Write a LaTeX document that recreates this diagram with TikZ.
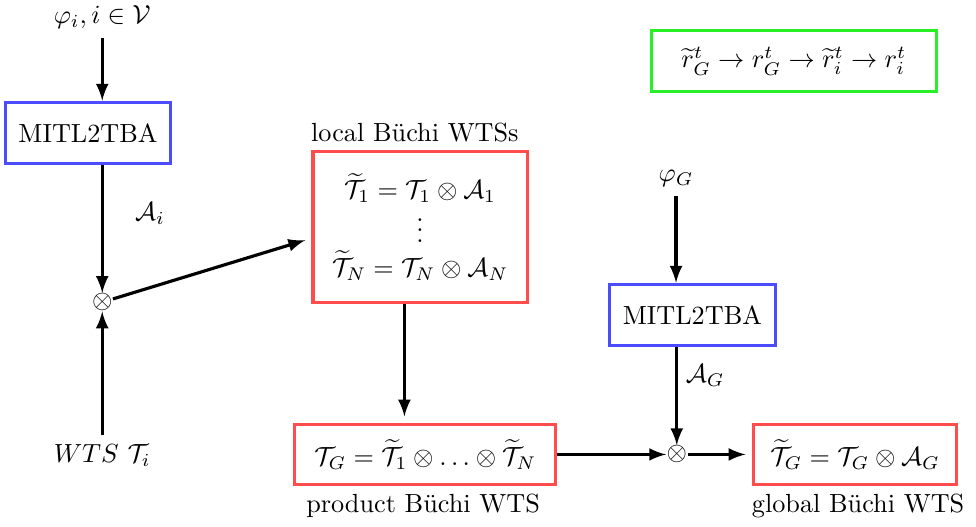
\documentclass[tikz,border=0pt]{standalone}
\usepackage{amsmath,amssymb}
\definecolor{boxgreen}{RGB}{40,240,40}
\begin{document}
\begin{tikzpicture}[
  bluebox/.style={draw=blue!70, very thick, minimum height=.82cm, inner xsep=5pt},
  redbox/.style={draw=red!70, very thick, minimum height=.8cm},
  greenbox/.style={draw=boxgreen, very thick, minimum height=.82cm},
  prod/.style={inner sep=0pt},
  arr/.style={-latex, very thick},
  tored/.style={shorten >=2.5pt}]
  \useasboundingbox (0,0) rectangle (13.08,-7.06);
  % left column
  \node (phii) at (1.37,-.23) {$\varphi_i, i\in\mathcal{V}$};
  \node[bluebox, minimum width=2.18cm] (mitli) at (1.18,-1.78) {MITL2TBA};
  \node[prod] (xi) at (1.37,-4.05) {$\otimes$};
  \node (ai) at (2.01,-2.86) {$\mathcal{A}_i$};
  \node (wts) at (1.37,-6.1) {$WTS\ \mathcal{T}_i$};
  \draw[arr](phii)--(phii |- mitli.north);
  \draw[arr](mitli.south -| xi)--(xi);
  \draw[arr](wts)--(xi);
  % local and product
  \node[redbox, minimum width=2.87cm, minimum height=2.02cm, align=center] (loc) at (5.63,-3.04)
	{$\widetilde{\mathcal{T}}_1 = \mathcal{T}_1 \otimes \mathcal{A}_1$\\[-1pt]
	 $\vdots$\\[1pt]
	 $\widetilde{\mathcal{T}}_N = \mathcal{T}_N \otimes \mathcal{A}_N$};
  \node (locl) at (5.56,-1.78) {local B\"uchi WTSs};
  \node[redbox, minimum width=3.5cm] (tg) at (5.7,-6.09)
	{$\mathcal{T}_G = \widetilde{\mathcal{T}}_1 \otimes \ldots \otimes \widetilde{\mathcal{T}}_N$};
  \node (tgl) at (5.67,-6.78) {product B\"uchi WTS};
  \coordinate (col) at (5.42,0);
  \draw[arr,tored](xi)--(loc.186);
  \draw[arr,tored](loc.south -| col)--(tg.north -| col);
  % global part
  \node (phig) at (9.06,-2.39) {$\varphi_G$};
  \node[bluebox, minimum width=2.16cm] (mitlg) at (9.28,-4.22) {MITL2TBA};
  \node (ag) at (9.45,-5.03) {$\mathcal{A}_G$};
  \node[prod] (xg) at (9.07,-6.09) {$\otimes$};
  \node[redbox, minimum width=2.72cm] (glob) at (11.46,-6.09)
	{$\widetilde{\mathcal{T}}_G = \mathcal{T}_G \otimes \mathcal{A}_G$};
  \node (globl) at (11.5,-6.78) {global B\"uchi WTS};
  \draw[arr](phig)--(phig |- mitlg.north);
  \draw[arr](mitlg.south -| xg)--(xg);
  \draw[arr](tg.east)--(xg);
  \draw[arr,tored](xg)--(glob.west);
  % order
  \node[greenbox, minimum width=3.82cm] (ord) at (10.64,-.82)
	{$\widetilde{r}^t_G \to r^t_G \to \widetilde{r}^t_i \to r^t_i$};
\end{tikzpicture}
\end{document}
